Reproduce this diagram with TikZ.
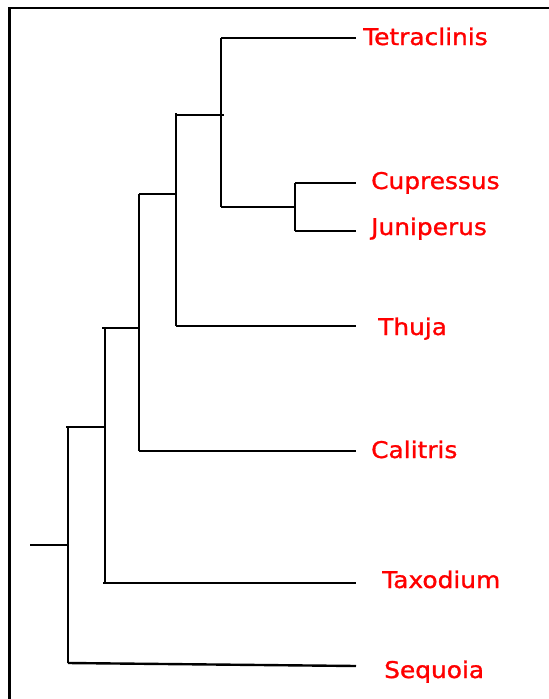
\documentclass[tikz,border=0pt]{standalone}
\usepackage{fontspec}
\newfontfamily\taxonfont[FakeStretch=1.08,FakeBold=1.2]{DejaVu Sans}
\definecolor{taxonred}{RGB}{255,0,0}
\begin{document}
\begin{tikzpicture}[x=1pt,y=-1pt,
  branch/.style={draw=black,line width=2.4pt},
  frameline/.style={draw=black,line width=2.2pt},
  taxon/.style={anchor=base west,inner sep=0pt,text=taxonred,font=\taxonfont\fontsize{23}{25}\selectfont}]
\useasboundingbox (0,0) rectangle (549,699);

% outer frame (top and left edges)
\draw[frameline] (9.5,699) -- (9.5,8) -- (549,8);

% internal nodes and branch tips
\coordinate (root) at (30,545);
\coordinate (n1top) at (68,427);
\coordinate (n1mid) at (68,545);
\coordinate (n1bot) at (68,663);
\coordinate (n2top) at (105,328);
\coordinate (n2mid) at (105,427);
\coordinate (n2bot) at (105,583);
\coordinate (n3top) at (139,194);
\coordinate (n3mid) at (139,328);
\coordinate (n3bot) at (139,451);
\coordinate (n4top) at (176,113);
\coordinate (n4mid) at (176,194);
\coordinate (n4bot) at (176,326);
\coordinate (n4arm) at (176,115);
\coordinate (n5top) at (221,38);
\coordinate (n5mid) at (221,115);
\coordinate (n5bot) at (221,207);
\coordinate (n6top) at (295,183);
\coordinate (n6mid) at (295,207);
\coordinate (n6bot) at (295,231);

\coordinate (tTetra) at (356,38);
\coordinate (tCupr) at (356,183);
\coordinate (tJuni) at (356,231);
\coordinate (tThuja) at (356,326);
\coordinate (tCali) at (356,451);
\coordinate (tTaxo) at (356,583);
\coordinate (tSequ) at (356,666);

% taxon labels
\node[taxon] (lTetra) at (363,45) {Tetraclinis};
\node[taxon] (lCupr) at (371,189) {Cupressus};
\node[taxon] (lJuni) at (371,235) {Juniperus};
\node[taxon] (lThuja) at (378,335) {Thuja};
\node[taxon] (lCali) at (371,458) {Calitris};
\node[taxon] (lTaxo) at (382,588) {Taxodium};
\node[taxon] (lSequ) at (384,678) {Sequoia};

% branches
\draw[branch] (root) -- (n1mid);
\draw[branch] (n1top) -- (n1bot);
\draw[branch] ([xshift=-2]n1top) -- (n2mid);
\draw[branch] (n1bot) -- (tSequ);
\draw[branch] (n2top) -- (n2bot);
\draw[branch] ([xshift=-2]n2bot) -- (tTaxo);
\draw[branch] ([xshift=-3]n2top) -- (n3mid);
\draw[branch] (n3top) -- (n3bot);
\draw[branch] (n3bot) -- (tCali);
\draw[branch] (n3top) -- (n4mid);
\draw[branch] (n4top) -- (n4bot);
\draw[branch] (n4bot) -- (tThuja);
\draw[branch] (n4arm) -- ([xshift=3]n5mid);
\draw[branch] (n5top) -- (n5bot);
\draw[branch] (n5top) -- (tTetra);
\draw[branch] (n5bot) -- (n6mid);
\draw[branch] (n6top) -- (n6bot);
\draw[branch] (n6top) -- (tCupr);
\draw[branch] (n6bot) -- (tJuni);
\end{tikzpicture}
\end{document}
